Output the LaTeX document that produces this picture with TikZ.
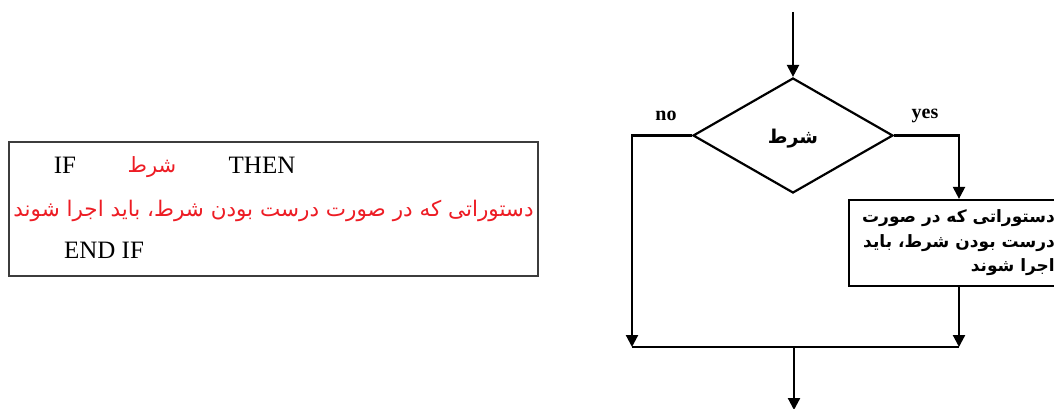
\documentclass[tikz,border=0pt]{standalone}
\usepackage{fontspec}
\setmainfont{Liberation Serif}
\newfontfamily\fa[Script=Arabic]{DejaVu Sans}
\TeXXeTstate=1
\usetikzlibrary{arrows.meta,shapes.geometric}
\definecolor{pred}{RGB}{237,28,36}
\definecolor{framegray}{RGB}{60,60,60}
\begin{document}
\begin{tikzpicture}[x=1pt,y=1pt,
  flow/.style={line width=2.2pt, line join=miter},
  tip/.style={-{Triangle[width=12pt,length=12pt]}},
  latin/.style={font=\fontsize{25}{25}\selectfont, inner sep=0pt},
  persred/.style={text=pred, inner sep=0pt},
  lbl/.style={font=\fontsize{20}{20}\selectfont\bfseries, inner sep=0pt}]
\useasboundingbox (0,0) rectangle (1054,-409);
% left code box
\node[draw=framegray, line width=1.8pt, minimum width=529pt, minimum height=134pt, inner sep=0pt] (codebox) at (273.5,-209) {};
\node[latin] (if) at (65,-165) {IF};
\node[persred, font=\fa\fontsize{21}{21}\selectfont] (cond1) at (152,-167) {\beginR شرط\endR};
\node[latin] (then) at (262,-165) {THEN};
\node[persred, font=\fa\fontsize{21.5}{21.5}\selectfont] (stmts) at (273.5,-211) {\beginR دستوراتی که در صورت درست بودن شرط، باید اجرا شوند\endR};
\node[latin] (endif) at (104,-250) {END IF};
% flowchart
\coordinate (start) at (793,-12);
\node[draw, flow, diamond, minimum width=200pt, minimum height=115pt, inner sep=0pt] (cond) at (793,-135.5) {};
\node[inner sep=0pt, font=\fa\bfseries\fontsize{19}{19}\selectfont] (condtext) at (793,-139) {\beginR شرط\endR};
\node[lbl] (no) at (666,-116) {no};
\node[lbl] (yes) at (925,-116) {yes};
\coordinate (nocorner) at (632,-135.5);
\coordinate (yescorner) at (959,-135.5);
\node[draw, flow, minimum width=214pt, minimum height=86pt, inner sep=0pt] (box) at (956,-243) {};
\node[inner sep=0pt, anchor=east, align=right, font=\fa\bfseries\fontsize{17}{24.5}\selectfont] (boxtext) at (1055,-243)
  {\beginR دستوراتی که در صورت\endR\\\beginR درست بودن شرط، باید\endR\\\beginR اجرا شوند\endR};
\coordinate (noend) at (632,-347);
\coordinate (yesend) at (959,-347);
\coordinate (merge) at (794,-347);
\coordinate (endpt) at (794,-410);
\draw[flow, tip] (start) -- (cond.north);
\draw[flow, tip] (cond.west) -- (nocorner) -- (noend);
\draw[flow, tip] (cond.east) -- (yescorner) -- (box.north -| yescorner);
\draw[flow, tip] (box.south -| yescorner) -- (yesend);
\draw[flow] (noend) -- (yesend);
\draw[flow, tip] (merge) -- (endpt);
\end{tikzpicture}
\end{document}
